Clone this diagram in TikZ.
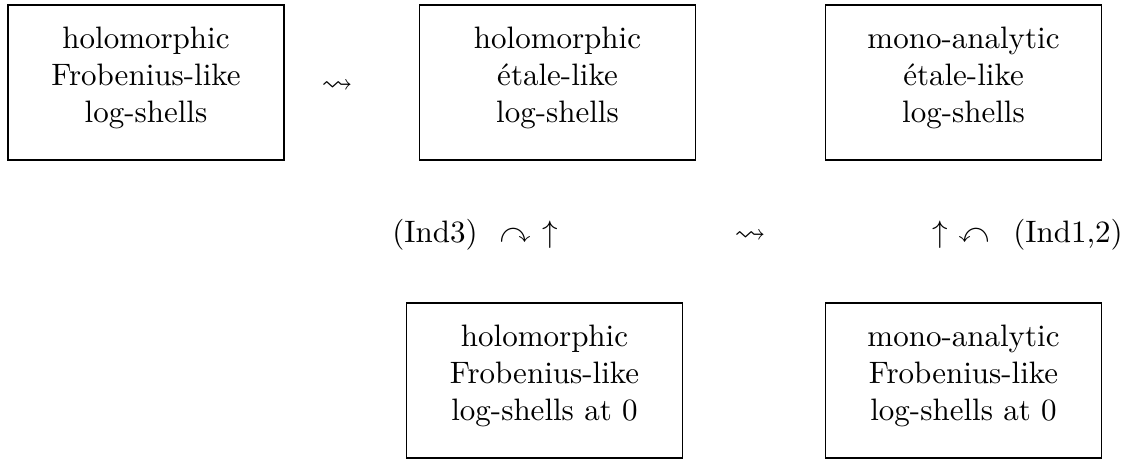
\documentclass[tikz,border=0pt]{standalone}
\usepackage{amsmath, amssymb}
\usepackage{tikz}

\begin{document}
\begin{tikzpicture}[x=0.011339cm, y=-0.011339cm,
    shellbox/.style={draw, align=center, minimum width=89pt, minimum height=50pt, inner sep=0pt,
      execute at end node={\rule[-5pt]{0pt}{0pt}}},
    glyph/.style={anchor=base, inner sep=0pt}]
  \useasboundingbox (0,0) rectangle (1130,459);

  % Top row: log-shells
  \node[shellbox] (holoFrob) at (146,82.5) {holomorphic\\Frobenius-like\\log-shells};
  \node[shellbox] (holoEt) at (557.5,82.5) {holomorphic\\\'etale-like\\log-shells};
  \node[shellbox] (monoEt) at (963.5,82.5) {mono-analytic\\\'etale-like\\log-shells};
  \node[glyph] (squigTop) at (337,92) {$\rightsquigarrow$};

  % Middle row: indeterminacies
  \node[glyph] (ind3) at (435,242) {(Ind3)};
  \node[glyph] (curvR) at (515,242) {$\curvearrowright$};
  \node[glyph] (upL) at (550,242) {$\uparrow$};
  \node[glyph] (squigMid) at (750,242) {$\rightsquigarrow$};
  \node[glyph] (upR) at (940,242) {$\uparrow$};
  \node[glyph] (curvL) at (974,242) {$\curvearrowleft$};
  \node[glyph] (ind12) at (1068,242) {(Ind1,2)};

  % Bottom row: log-shells at 0
  \node[shellbox] (holoZero) at (544.5,380.5) {holomorphic\\Frobenius-like\\log-shells at 0};
  \node[shellbox] (monoZero) at (963.5,380.5) {mono-analytic\\Frobenius-like\\log-shells at 0};
\end{tikzpicture}
\end{document}
